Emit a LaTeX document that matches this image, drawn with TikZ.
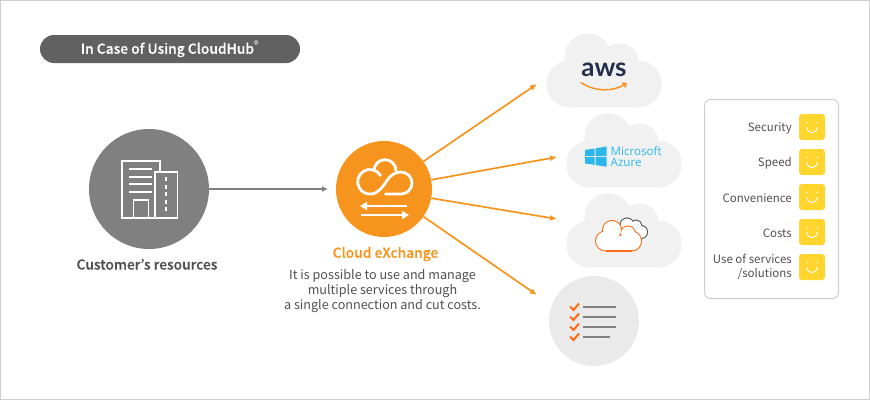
\documentclass[tikz,border=0pt]{standalone}
\usepackage{fontspec}
\setmainfont[BoldFont={Noto Sans CJK KR Medium}, BoldFeatures={FakeBold=0.25}]{Noto Sans CJK KR}
\newfontfamily\logofont{Lato}
\newfontfamily\azurefont{Open Sans}
\usetikzlibrary{positioning, arrows, arrows.meta}
\definecolor{framegray}{HTML}{CFCFCF}
\definecolor{pillgray}{HTML}{616161}
\definecolor{discgray}{HTML}{808080}
\definecolor{textgray}{HTML}{505050}
\definecolor{cloudfill}{HTML}{F1F1F1}
\definecolor{cloudedge}{HTML}{EAEAEA}
\definecolor{lineorange}{HTML}{F7941E}
\definecolor{iconorange}{HTML}{FF6A13}
\definecolor{facegold}{HTML}{FFD52E}
\definecolor{azureblue}{HTML}{2CB7EA}
\definecolor{awsnavy}{HTML}{232F4B}
\tikzset{
    x=1pt, y=-1pt,
    orangeline/.style={draw=lineorange, line width=1.7pt, -{Latex[length=7pt,width=6pt]}},
    whiteline/.style={draw=white, line width=1.6pt},
    iconline/.style={draw=white, line width=2.8pt, line cap=round},
    listline/.style={draw=discgray, line width=1.6pt},
    listcheck/.style={draw=iconorange, line width=2pt},
    bigcloud/.pic={
        \foreach \cx/\cy/\cr in {-19/-20/23, 13/-15/18, -37/7/23, 31/7/23}
            \draw[cloudedge, line width=0.8pt] (\cx,\cy) circle (\cr);
        \foreach \cx/\cy/\cr in {-19/-20/23, 13/-15/18, -37/7/23, 31/7/23}
            \fill[cloudfill] (\cx,\cy) circle (\cr);
        \fill[cloudfill] (-37,-10) rectangle (31,30);
    },
    smile/.pic={
        \fill[facegold] (0,0) [rounded corners=3pt] rectangle (26,26);
        \fill[white] (7.7,8.5) circle (0.8);
        \fill[white] (18.3,8.5) circle (0.8);
        \draw[white, line width=0.9pt] (7.5,13) .. controls (8.5,20.5) and (17.5,20.5) .. (18.5,13);
    },
}

\begin{document}
\begin{tikzpicture}
    \useasboundingbox (0,0) rectangle (870,400);
    \draw[framegray] (0.5,0.5) rectangle (869.5,399.5);

    \node[fill=pillgray, rounded corners=14pt, minimum width=260pt, minimum height=28pt, inner sep=0pt,
        text=white, font=\fontsize{13.8}{15}\selectfont\bfseries] (title) at (170,49) {In Case of Using CloudHub\textsuperscript{\mdseries ®}};

    % customer side
    \node[circle, fill=discgray, minimum size=120pt, inner sep=0pt] (customer) at (149,189) {};
    \node[below=6pt of customer, xshift=-2pt, text=textgray, font=\fontsize{13.8}{16}\selectfont\bfseries] (customerlabel) {Customer’s resources};
    \draw[whiteline] (160,171.7) -- (160,160.7) -- (121.7,160.7) -- (121.7,217.7) -- (177.3,217.7) -- (177.3,171.7) -- (155,171.7) -- (155,217.7);
    \foreach \ly in {169,176.7,184,191.7}
        \draw[whiteline] (129.3,\ly) -- (151.7,\ly);
    \draw[whiteline] (133.3,217.7) -- (133.3,200) -- (148.3,200) -- (148.3,217.7);
    \draw[whiteline, dash pattern=on 4pt off 3.5pt] (166,177) -- (166,213);

    % exchange
    \node[circle, fill=lineorange, minimum size=96pt, inner sep=0pt] (exchange) at (384,189) {};
    \draw[iconline] (380.5,175.4) arc[start angle=-31, end angle=-270, radius=12.3]
        .. controls (379,194) and (383,186) .. (387,180.5)
        .. controls (391,175) and (395,172) .. (401,172)
        arc[start angle=-90, end angle=90, radius=11] -- (385.5,194);
    \draw[iconline] (374,170.7) arc[start angle=180, end angle=360, radius=11];
    \coordinate (swapa) at (360,206);
    \coordinate (swapb) at (407,206);
    \coordinate (swapc) at (409,215);
    \coordinate (swapd) at (361,215);
    \draw[draw=white, line width=2.2pt, {Triangle[length=7pt,width=8pt]}-] (swapa) -- (swapb);
    \draw[draw=white, line width=2.2pt, -{Triangle[length=7pt,width=8pt]}] (swapd) -- (swapc);
    \node[text=lineorange, font=\fontsize{13.8}{16}\selectfont\bfseries] (exchangelabel) at (385.5,254) {Cloud eXchange};
    \node[below=1pt of exchangelabel, xshift=-3pt, align=center, text=textgray, font=\fontsize{12.6}{15}\selectfont] (exchangetext)
        {It is possible to use and manage\\multiple services through\\a single connection and cut costs.};

    % clouds
    \pic at (607,77) {bigcloud};
    \pic at (627,157) {bigcloud};
    \pic at (627,237) {bigcloud};
    \node[circle, fill=cloudedge, minimum size=90pt, inner sep=0pt] (listdisc) at (594,321) {};

    \node[text=awsnavy, font=\fontsize{26}{26}\logofont\bfseries, inner sep=0pt] (awslabel) at (604,70) {aws};
    \draw[lineorange, line width=1.5pt, -{Straight Barb[length=3pt,width=5pt]}] (581,82.5) .. controls (595,92) and (613,92) .. (627,83);

    \fill[azureblue] (585,150) -- (594.5,148.5) -- (594.5,156) -- (585,156) -- cycle;
    \fill[azureblue] (595.5,148.3) -- (606.7,146.5) -- (606.7,156) -- (595.5,156) -- cycle;
    \fill[azureblue] (585,157) -- (594.5,157) -- (594.5,164.8) -- (585,163.5) -- cycle;
    \fill[azureblue] (595.5,157) -- (606.7,157) -- (606.7,166.7) -- (595.5,165) -- cycle;
    \node[right=0pt of {(610.5,157)}, inner sep=0pt, align=left, text=azureblue, font=\fontsize{11.6}{11}\azurefont] (azurelabel) {Microsoft\\Azure};

    \foreach \cx/\cy/\cr in {627/225/6.5, 636/226/5.5, 641/232/6}
        \draw[textgray, line width=2pt] (\cx,\cy) circle (\cr);
    \foreach \cx/\cy/\cr in {627/225/6.5, 636/226/5.5, 641/232/6}
        \fill[white] (\cx,\cy) circle (\cr);
    \foreach \cx/\cy/\cr in {605.5/241/9.5, 612/230/9, 628/233.5/7, 631.5/241/9.5}
        \draw[iconorange, line width=2pt] (\cx,\cy) circle (\cr);
    \foreach \cx/\cy/\cr in {605.5/241/9.5, 612/230/9, 628/233.5/7, 631.5/241/9.5}
        \fill[white] (\cx,\cy) circle (\cr);
    \draw[iconorange, line width=2pt] (605.5,250.5) -- (631.5,250.5);
    \fill[white] (605.5,236) rectangle (631.5,249.6);

    \foreach \ly/\lx in {307/616, 317/616, 327/616, 337/610} {
        \draw[listline] (582.7,\ly) -- (\lx,\ly);
        \draw[listcheck] (570,\ly-0.5) -- (573.5,\ly+3) -- (579,\ly-3.5);
    }

    % connectors
    \coordinate (inexchange) at (328,189);
    \coordinate (inaws) at (537,84);
    \coordinate (inazure) at (557,157);
    \coordinate (inother) at (557,219);
    \coordinate (inlist) at (537,295);
    \draw[draw=discgray, line width=1.4pt, -{Latex[length=6pt,width=6pt]}] (customer) -- (inexchange);
    \draw[orangeline] (exchange.35) -- (inaws);
    \draw[orangeline] (exchange.11.5) -- (inazure);
    \draw[orangeline] (exchange.-11.5) -- (inother);
    \draw[orangeline] (exchange.-35) -- (inlist);

    % merits panel
    \draw[framegray, rounded corners=6pt, line width=1pt] (704.5,99.5) rectangle (838.5,298.5);
    \foreach \fy/\fname/\ftext in {114/security/Security, 149/speed/Speed, 184/convenience/Convenience, 219/costs/Costs} {
        \pic at (799,\fy) {smile};
        \node[left, inner sep=0pt, text=textgray, font=\fontsize{11.5}{14}\selectfont] (\fname) at (792,\fy+14.5) {\ftext};
    }
    \pic at (799,254) {smile};
    \node[left, inner sep=0pt, align=right, text=textgray, font=\fontsize{11.5}{14}\selectfont] (services) at (792,267) {Use of services\\/solutions};
\end{tikzpicture}
\end{document}
